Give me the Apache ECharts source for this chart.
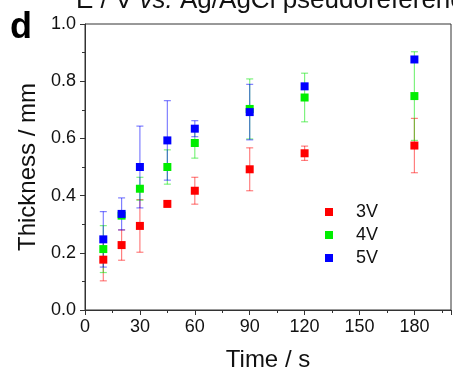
<!DOCTYPE html>
<html>
<head>
<meta charset="utf-8">
<script src="https://cdn.jsdelivr.net/npm/echarts@6/dist/echarts.min.js"></script>
<style>
  html, body { margin: 0; padding: 0; background: #fff; }
  #chart { width: 453px; height: 377px; }
</style>
</head>
<body>
<div id="chart"></div>
<script>
(function() {
  var font = '"Liberation Sans", Arial, sans-serif';

  // Time points (s)
  var times = [10, 20, 30, 45, 60, 90, 120, 180];

  // Thickness (mm) and error (+/-) for each applied potential
  var v3 = [0.176, 0.227, 0.294, 0.371, 0.417, 0.492, 0.548, 0.575];
  var v3Err = [0.074, 0.053, 0.092, 0.010, 0.047, 0.075, 0.025, 0.095];

  var v4 = [0.213, 0.330, 0.424, 0.500, 0.584, 0.703, 0.743, 0.748];
  var v4Err = [0.082, 0.010, 0.040, 0.060, 0.053, 0.105, 0.085, 0.155];

  var v5 = [0.247, 0.336, 0.500, 0.593, 0.634, 0.692, 0.782, 0.876];
  var v5Err = [0.097, 0.056, 0.143, 0.139, 0.028, 0.097, 0.010, 0.010];

  var names = ['3V', '4V', '5V'];
  var colors = ['#ff0000', '#00ee00', '#0000ff'];
  var errColors = ['rgba(255,0,0,0.5)', 'rgba(0,230,0,0.5)', 'rgba(0,0,255,0.5)'];

  function pts(vals) {
    return times.map(function(t, i) { return [t, vals[i]]; });
  }
  function errPts(vals, errs) {
    return times.map(function(t, i) { return [t, vals[i] - errs[i], vals[i] + errs[i]]; });
  }

  function errorSeries(vals, errs, color) {
    return {
      type: 'custom',
      silent: true,
      z: 1,
      data: errPts(vals, errs),
      renderItem: function(params, api) {
        var lo = api.coord([api.value(0), api.value(1)]);
        var hi = api.coord([api.value(0), api.value(2)]);
        var w = 3.5;
        var st = { stroke: color, lineWidth: 1.2 };
        return {
          type: 'group',
          children: [
            { type: 'line', shape: { x1: lo[0], y1: lo[1], x2: hi[0], y2: hi[1] }, style: st },
            { type: 'line', shape: { x1: lo[0] - w, y1: lo[1], x2: lo[0] + w, y2: lo[1] }, style: st },
            { type: 'line', shape: { x1: hi[0] - w, y1: hi[1], x2: hi[0] + w, y2: hi[1] }, style: st }
          ]
        };
      }
    };
  }

  function markerSeries(name, vals, color, z) {
    return {
      name: name,
      type: 'scatter',
      symbol: 'rect',
      symbolSize: 8,
      z: z,
      itemStyle: { color: color, opacity: 1 },
      data: pts(vals)
    };
  }

  var chart = echarts.init(document.getElementById('chart'), null, { renderer: 'canvas' });

  chart.setOption({
    animation: false,
    textStyle: { fontFamily: font },
    grid: {
      left: 85, right: 2, top: 24, bottom: 58,
      show: true, borderColor: '#333', borderWidth: 1
    },
    legend: {
      orient: 'vertical',
      left: 320, top: 198,
      icon: 'rect',
      itemWidth: 8, itemHeight: 8,
      itemGap: 5,
      data: names,
      textStyle: { color: '#111', fontSize: 18, fontFamily: font, padding: [0, 0, 0, 18], lineHeight: 18 }
    },
    xAxis: {
      type: 'value',
      min: 0, max: 200, interval: 30,
      name: 'Time / s',
      nameLocation: 'middle',
      nameGap: 38,
      nameTextStyle: { color: '#111', fontSize: 24, fontFamily: font },
      axisLine: { lineStyle: { color: '#333', width: 1 } },
      axisTick: { length: 5, lineStyle: { color: '#333' } },
      minorTick: { show: true, splitNumber: 2, length: 3, lineStyle: { color: '#333' } },
      axisLabel: { color: '#111', fontSize: 18, margin: 8, showMaxLabel: false,
        formatter: function(v) { return v > 180 ? '' : v; } },
      splitLine: { show: false }
    },
    yAxis: {
      type: 'value',
      min: 0, max: 1, interval: 0.2,
      name: 'Thickness / mm',
      nameLocation: 'middle',
      nameGap: 44,
      nameTextStyle: { color: '#111', fontSize: 24, fontFamily: font },
      axisLine: { show: true, lineStyle: { color: '#333', width: 1 } },
      axisTick: { show: true, length: 5, lineStyle: { color: '#333' } },
      minorTick: { show: true, splitNumber: 2, length: 3, lineStyle: { color: '#333' } },
      axisLabel: { color: '#111', fontSize: 18, margin: 9,
        formatter: function(v) { return v.toFixed(1); } },
      splitLine: { show: false }
    },
    graphic: [
      {
        type: 'text', left: 76, top: -12, silent: true,
        style: {
          text: '{n|E / V }{i|vs.}{n| Ag/AgCl pseudoreference}',
          rich: {
            n: { fontSize: 26, fontFamily: font, fill: '#111' },
            i: { fontSize: 26, fontFamily: font, fontStyle: 'italic', fill: '#111' }
          }
        }
      },
      {
        type: 'text', left: 10, top: 10, silent: true,
        style: { text: 'd', fontSize: 36, fontWeight: 'bold', fontFamily: font, fill: '#000' }
      }
    ],
    series: [
      errorSeries(v3, v3Err, errColors[0]),
      errorSeries(v4, v4Err, errColors[1]),
      errorSeries(v5, v5Err, errColors[2]),
      markerSeries(names[0], v3, colors[0], 3),
      markerSeries(names[1], v4, colors[1], 4),
      markerSeries(names[2], v5, colors[2], 5)
    ]
  });

  window.addEventListener('resize', function() { chart.resize(); });
})();
</script>
</body>
</html>
